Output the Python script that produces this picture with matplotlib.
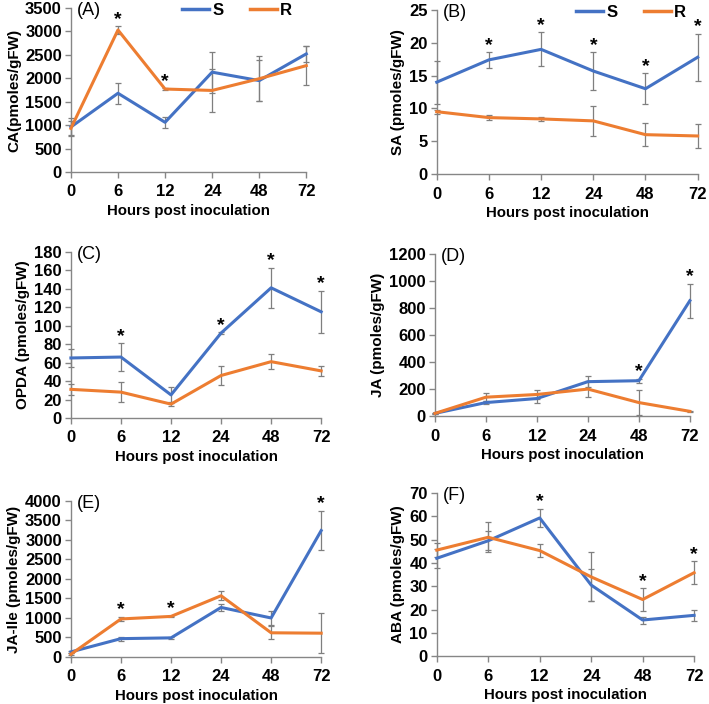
import matplotlib.pyplot as plt
from matplotlib.lines import Line2D

plt.rcParams['font.family'] = ['Liberation Sans', 'DejaVu Sans']

hours = ['0', '6', '12', '24', '48', '72']
blue = '#4472C4'
orange = '#ED7D31'

# CA
ca_s = [960, 1680, 1060, 2130, 1950, 2520]
ca_s_err = [200, 220, 120, 440, 440, 170]
ca_r = [930, 3030, 1770, 1740, 1990, 2270]
ca_r_err = [150, 80, 20, 450, 480, 410]
ca_star = [1, 2]

# SA
sa_s = [14.0, 17.4, 19.0, 15.7, 13.0, 17.8]
sa_s_err = [3.3, 1.2, 2.6, 2.9, 2.4, 3.6]
sa_r = [9.5, 8.6, 8.4, 8.1, 6.0, 5.8]
sa_r_err = [0.3, 0.35, 0.25, 2.3, 1.8, 1.8]
sa_star = [1, 2, 3, 4, 5]

# OPDA
opda_s = [65, 66, 25, 92, 141, 115]
opda_s_err = [10, 15, 9, 1, 22, 23]
opda_r = [31, 28, 15, 46, 61, 51]
opda_r_err = [6, 11, 2, 10, 8, 5]
opda_star = [1, 3, 4, 5]

# JA
ja_s = [20, 100, 130, 255, 262, 855]
ja_s_err = [5, 10, 30, 40, 15, 125]
ja_r = [20, 140, 160, 200, 100, 35]
ja_r_err = [5, 30, 35, 60, 90, 5]
ja_star = [4, 5]

# JA-Ile
jaile_s = [130, 470, 490, 1270, 1000, 3240]
jaile_s_err = [20, 50, 20, 100, 180, 510]
jaile_r = [70, 975, 1040, 1570, 620, 610]
jaile_r_err = [20, 60, 20, 120, 170, 510]
jaile_star = [1, 2, 5]

# ABA
aba_s = [42, 49.5, 59.3, 30.5, 15.5, 17.5]
aba_s_err = [4, 4, 4, 7, 1.5, 2.5]
aba_r = [45.5, 51, 45.3, 34, 24.3, 35.8]
aba_r_err = [3, 6.5, 2.8, 10.5, 4.8, 5]
aba_star = [2, 4, 5]

panels = [
    ('(A)', 'CA(pmoles/gFW)', ca_s, ca_s_err, ca_r, ca_r_err, ca_star, 3500, 500,
     [0.100, 0.7557, 0.332, 0.233]),
    ('(B)', 'SA (pmoles/gFW)', sa_s, sa_s_err, sa_r, sa_r_err, sa_star, 25, 5,
     [0.616, 0.7528, 0.368, 0.233]),
    ('(C)', 'OPDA (pmoles/gFW)', opda_s, opda_s_err, opda_r, opda_r_err, opda_star, 180, 20,
     [0.100, 0.4063, 0.353, 0.236]),
    ('(D)', 'JA (pmoles/gFW)', ja_s, ja_s_err, ja_r, ja_r_err, ja_star, 1200, 200,
     [0.6135, 0.409, 0.3595, 0.230]),
    ('(E)', 'JA-Ile (pmoles/gFW)', jaile_s, jaile_s_err, jaile_r, jaile_r_err, jaile_star, 4000, 500,
     [0.100, 0.0668, 0.353, 0.2216]),
    ('(F)', 'ABA (pmoles/gFW)', aba_s, aba_s_err, aba_r, aba_r_err, aba_star, 70, 10,
     [0.616, 0.068, 0.363, 0.2317]),
]
legend_x = [0.99, 1.0]

fig = plt.figure(figsize=(7.09, 7.04), dpi=100)

for i, (tag, ylab, s, se, r, re, stars, ymax, step, pos) in enumerate(panels):
    ax = fig.add_axes(pos)
    x = list(range(len(hours)))
    for vals, errs, col in [(s, se, blue), (r, re, orange)]:
        cont = ax.errorbar(x, vals, yerr=errs, color=col, lw=2.2, ecolor='#7f7f7f',
                           elinewidth=0.9, capsize=2.5, capthick=0.9, zorder=3)
        for child in cont.get_children():
            child.set_clip_on(False)
    for k in stars:
        top = max(s[k] + se[k], r[k] + re[k])
        ax.text(k, top - ymax * 0.01, '*', ha='center', va='bottom',
                fontsize=14, fontweight='bold', zorder=4)
    ax.set_xlim(0, 5)
    ax.set_ylim(0, ymax)
    ax.set_xticks(x)
    ax.set_xticklabels(hours)
    ax.set_yticks(range(0, ymax + step, step))
    for sp in ['top', 'right']:
        ax.spines[sp].set_visible(False)
    for sp in ['left', 'bottom']:
        ax.spines[sp].set_color('#868686')
        ax.spines[sp].set_linewidth(1.0)
    ax.tick_params(axis='both', direction='out', length=4, color='#868686', width=1.0,
                   labelsize=12)
    ax.tick_params(axis='x', pad=5)
    ax.tick_params(axis='y', pad=2.5)
    for lab in ax.get_xticklabels() + ax.get_yticklabels():
        lab.set_fontweight('bold')
    ax.set_xlabel('Hours post inoculation', fontsize=10.8, fontweight='bold', labelpad=3)
    ax.set_ylabel(ylab, fontsize=11, fontweight='bold', labelpad=3)
    ax.text(0.025, 0.985, tag, transform=ax.transAxes, fontsize=13, ha='left', va='center')
    if i < 2:
        handles = [Line2D([], [], color=blue, lw=2.5), Line2D([], [], color=orange, lw=2.5)]
        ax.legend(handles, ['S', 'R'], loc='upper right', bbox_to_anchor=(legend_x[i], 1.1),
                  ncol=2, frameon=False, prop={'weight': 'bold', 'size': 12},
                  handlelength=1.6, columnspacing=1.6, handletextpad=0.2, borderpad=0.2)

fig.savefig('out.png', dpi=100)
